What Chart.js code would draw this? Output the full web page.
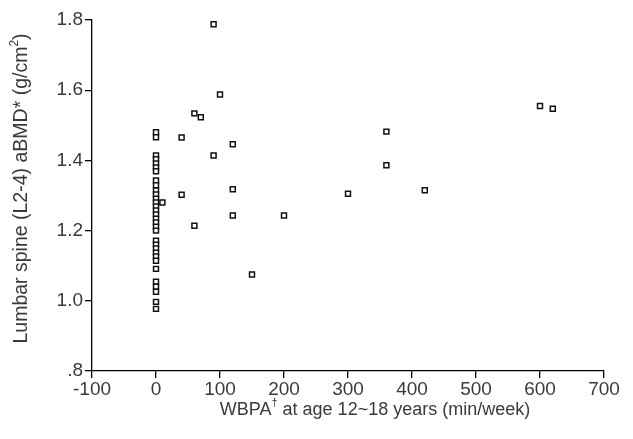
<!DOCTYPE html>
<html><head><meta charset="utf-8">
<script src="https://cdn.jsdelivr.net/npm/chart.js@4/dist/chart.umd.min.js"></script>
<style>html,body{margin:0;padding:0;background:#fff}</style>
</head><body>
<canvas id="c" width="633" height="439"></canvas>
<script>
// WBPA at age 12~18 years (min/week)
const wbpa = [
  0,0,0,0,0,0,0,0,0,0,0,0,0,0,0,0,
  0,0,0,0,0,0,0,0,0,0,0,0,0,0,0,0,
  10,40,40,60,70,60,90,100,90,120,120,120,150,200,300,360,360,420,600,620
];
// Lumbar spine (L2-4) aBMD (g/cm2)
const abmd = [
  1.480,1.466,1.414,1.403,1.391,1.380,1.369,1.343,1.329,1.314,1.303,1.291,1.280,1.269,1.257,1.246,
  1.234,1.223,1.211,1.200,1.171,1.160,1.149,1.137,1.126,1.114,1.091,1.054,1.040,1.026,0.997,0.977,
  1.280,1.465,1.302,1.534,1.523,1.214,1.788,1.588,1.414,1.446,1.318,1.243,1.075,1.243,1.305,1.482,1.386,1.315,1.555,1.547
];
const xTickValues = [-100,0,100,200,300,400,500,600,700];
const yTickLabels = ['.8','1.0','1.2','1.4','1.6','1.8'];
const xTitleParts = [['WBPA',false],['\u2020',true],[' at age 12~18 years (min/week)',false]];
const yTitleParts = [['Lumbar spine (L2-4) aBMD* (g/cm',false],['2',true],[')',false]];

const FONT = '"Liberation Sans", Arial, sans-serif';
const TXT = '#3a3a3a';
const points = wbpa.map((x,i)=>({x:x, y:abmd[i]}));

function drawParts(ctx, parts, size){
  let total = 0;
  parts.forEach(([t,sup])=>{ctx.font=(sup?Math.round(size*0.62):size)+'px '+FONT; total+=ctx.measureText(t).width;});
  let x = -total/2;
  parts.forEach(([t,sup])=>{
    ctx.font=(sup?Math.round(size*0.62):size)+'px '+FONT;
    ctx.fillText(t, x, sup ? -size*0.38 : 0);
    x += ctx.measureText(t).width;
  });
}
const titlePlugin = {
  id:'axisTitles',
  afterDraw(chart){
    const ctx = chart.ctx, a = chart.chartArea;
    ctx.save();
    ctx.fillStyle = TXT;
    ctx.textBaseline = 'middle';
    ctx.textAlign = 'left';
    ctx.translate((a.left+a.right)/2 + 27, 410);
    drawParts(ctx, xTitleParts, 18);
    ctx.restore();
    ctx.save();
    ctx.fillStyle = TXT;
    ctx.textBaseline = 'middle';
    ctx.textAlign = 'left';
    ctx.translate(22, (a.top+a.bottom)/2 - 7);
    ctx.rotate(-Math.PI/2);
    drawParts(ctx, yTitleParts, 19.5);
    ctx.restore();
  }
};

new Chart(document.getElementById('c'), {
  type:'scatter',
  data:{datasets:[{
    data: points,
    pointStyle:'rect',
    pointRadius:3.5,
    pointBorderWidth:1.5,
    borderColor:'#111',
    backgroundColor:'#fff',
    pointHoverRadius:3.5
  }]},
  options:{
    responsive:false,
    animation:false,
    devicePixelRatio:1,
    layout:{padding:{top:20,right:29,left:0,bottom:0}},
    plugins:{legend:{display:false},tooltip:{enabled:false}},
    scales:{
      x:{
        type:'linear', min:-100, max:700,
        afterBuildTicks(s){ s.ticks = xTickValues.map(v=>({value:v})); },
        afterFit(s){ s.height = 68; },
        ticks:{color:TXT, font:{family:FONT,size:19}, padding:0, maxRotation:0, autoSkip:false},
        grid:{drawOnChartArea:false, drawTicks:true, tickLength:7, color:'#000', lineWidth:1.3},
        border:{display:true, color:'#000', width:1.3}
      },
      y:{
        type:'linear', min:0.8, max:1.8,
        afterBuildTicks(s){ s.ticks = yTickLabels.map(t=>({value:parseFloat(t)})); },
        afterFit(s){ s.width = 92; },
        ticks:{color:TXT, font:{family:FONT,size:19}, padding:2,
          callback(v){ const i = yTickLabels.findIndex(t=>Math.abs(parseFloat(t)-v)<1e-6); return i>=0 ? yTickLabels[i] : ''; }},
        grid:{drawOnChartArea:false, drawTicks:true, tickLength:7, color:'#000', lineWidth:1.3},
        border:{display:true, color:'#000', width:1.3}
      }
    }
  },
  plugins:[titlePlugin]
});
</script>
</body></html>
